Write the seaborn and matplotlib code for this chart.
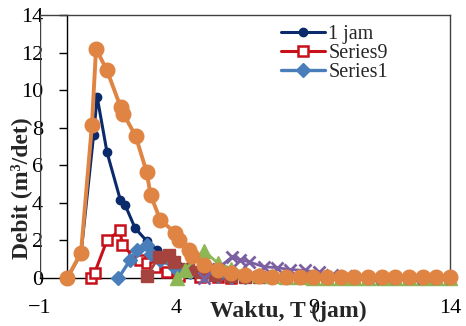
import matplotlib
matplotlib.use("Agg")
import matplotlib.pyplot as plt
import seaborn as sns

# ---------------- data ----------------
navy_x = [0, 0.5, 0.96, 1.09, 1.45, 1.94, 2.11, 2.48, 2.92, 3.28, 3.9, 4.4, 5.0, 5.5, 6.0, 7.0, 8.0]
navy_y = [0, 1.3, 7.6, 9.65, 6.7, 4.15, 3.9, 2.65, 1.95, 1.5, 0.9, 0.6, 0.35, 0.22, 0.14, 0.06, 0.03]

red_x = [0.85, 1.0, 1.45, 1.94, 2.0, 2.43, 2.67, 2.92, 3.2, 3.65, 4.1, 4.85, 5.5, 6.0]
red_y = [0, 0.28, 2.0, 2.55, 1.75, 1.15, 0.95, 0.8, 0.6, 0.3, 0.12, 0.06, 0.03, 0.02]

blue_x = [1.87, 2.3, 2.55, 2.92, 3.05, 3.4, 3.95, 4.1, 4.5, 5.0, 5.5, 6.0, 6.5]
blue_y = [0, 0.96, 1.5, 1.75, 1.3, 0.95, 0.55, 0.45, 0.3, 0.16, 0.1, 0.06, 0.03]

brown_x = [2.92, 3.34, 3.71, 3.9, 4.4, 4.9, 5.4, 6.0, 6.5, 7.0]
brown_y = [0.1, 1.13, 1.22, 0.85, 0.5, 0.3, 0.16, 0.08, 0.05, 0.03]

green_x = [4.0, 4.3, 5.0, 5.5, 6.0, 6.5, 7.0, 7.5, 8.0, 8.5, 9.0, 9.5, 10.0, 10.5, 11.0,
           11.5, 12.0, 12.5, 13.0, 13.5, 14.0]
green_y = [0, 0.45, 1.45, 0.8, 0.5, 0.3, 0.18, 0.1, 0.06, 0.03, 0.02, 0.02, 0.02, 0.02, 0.02,
           0.02, 0.02, 0.02, 0.02, 0.02, 0.02]

purple_x = [5.0, 5.5, 6.03, 6.33, 6.63, 7.18, 7.67, 8.16, 8.71, 9.2, 9.7, 10.2, 10.7, 11.2,
            11.7, 12.2, 12.7, 13.2, 13.7]
purple_y = [0, 0.5, 1.13, 0.96, 0.87, 0.6, 0.55, 0.45, 0.4, 0.3, 0.18, 0.08, 0.03, 0.02,
            0.02, 0.02, 0.02, 0.02, 0.02]

orange_x = [0, 0.5, 0.9, 1.05, 1.45, 1.95, 2.05, 2.5, 2.9, 3.05, 3.4, 3.95, 4.1, 4.45, 4.55,
            5.0, 5.5, 6.0, 6.5, 7.0, 7.5, 8.0, 8.5, 9.0, 9.5, 10.0, 10.5, 11.0, 11.5, 12.0,
            12.5, 13.0, 13.5, 14.0]
orange_y = [0, 1.35, 8.15, 12.2, 11.05, 9.1, 8.75, 7.55, 5.65, 4.4, 3.1, 2.4, 2.0, 1.5, 1.15,
            0.7, 0.45, 0.25, 0.16, 0.08, 0.06, 0.05, 0.04, 0.04, 0.03, 0.03, 0.03, 0.03, 0.03,
            0.03, 0.03, 0.03, 0.03, 0.03]

legend_labels = ["1 jam", "Series9", "Series1"]
x_ticks = [-1, 4, 9, 14]
y_ticks = [0, 2, 4, 6, 8, 10, 12, 14]
x_label = "Waktu, T (jam)"
y_label = "Debit (m³/det)"

# ---------------- style ----------------
sns.set_theme(style="white")
plt.rcParams["font.family"] = ["Liberation Serif", "DejaVu Serif"]

fig = plt.figure(figsize=(4.66, 3.26), dpi=100)
ax = fig.add_axes([40 / 466, 48 / 326, 410 / 466, 263 / 326])

def draw(x, y, color, marker, ms, lw, z, label="_nolegend_", mfc=None, mew=1.0):
    sns.lineplot(x=x, y=y, ax=ax, color=color, marker=marker, markersize=ms,
                 linewidth=lw, markeredgecolor=color, markerfacecolor=mfc or color,
                 markeredgewidth=mew, label=label, zorder=z, clip_on=False,
                 legend=False, estimator=None, sort=False)

draw(navy_x, navy_y, "#0B2A6B", "o", 6, 2.2, 4, label=legend_labels[0])
draw(red_x, red_y, "#C8101A", "s", 6.5, 2.2, 5, label=legend_labels[1], mfc="white", mew=1.8)
draw(blue_x, blue_y, "#4A7EBB", "D", 7.5, 2.4, 6, label=legend_labels[2])
draw(brown_x, brown_y, "#A5433F", "s", 8.5, 2.0, 7)
draw(green_x, green_y, "#8DB654", "^", 9.5, 2.0, 8)
draw(purple_x, purple_y, "#7B5FA0", "x", 9, 2.0, 9, mew=2.0)
draw(orange_x, orange_y, "#DF8443", "o", 10.5, 2.8, 10)

ax.set_xlim(-1, 14)
ax.set_ylim(0, 14)
ax.set_xticks(x_ticks)
ax.set_yticks(y_ticks)

frame_c = "#404040"
for s in ["top", "right"]:
    ax.spines[s].set_color(frame_c)
    ax.spines[s].set_linewidth(1.0)
ax.spines["bottom"].set_color("black")
ax.spines["bottom"].set_linewidth(1.0)
ax.spines["left"].set_position(("data", 0))
ax.spines["left"].set_color("black")
ax.spines["left"].set_linewidth(1.0)
ax.axvline(-1, color=frame_c, lw=1.0, zorder=2.5)

ax.tick_params(axis="y", left=True, direction="out", length=6, width=1, pad=11.5,
               labelsize=16, colors="black")
ax.tick_params(axis="x", bottom=False, length=0, pad=15, labelsize=16, colors="black")

ax.set_xlabel(x_label, fontsize=17, fontweight="bold")
ax.xaxis.set_label_coords((288 - 40) / 410, (278 - 311) / 263)
ax.xaxis.label.set_va("center")
ax.set_ylabel(y_label, fontsize=17, fontweight="bold")
ax.yaxis.set_label_coords((21 - 40) / 410, (278 - 188) / 263)
ax.yaxis.label.set_va("center")

handles, labels = ax.get_legend_handles_labels()
ax.legend(handles, labels, loc="upper left", bbox_to_anchor=(281 / 466, 1 - 25 / 326),
          bbox_transform=fig.transFigure, frameon=False, borderpad=0, borderaxespad=0,
          handlelength=2.2, handletextpad=0.15, labelspacing=0.0, fontsize=14.5)

fig.savefig("out.png", dpi=100)
